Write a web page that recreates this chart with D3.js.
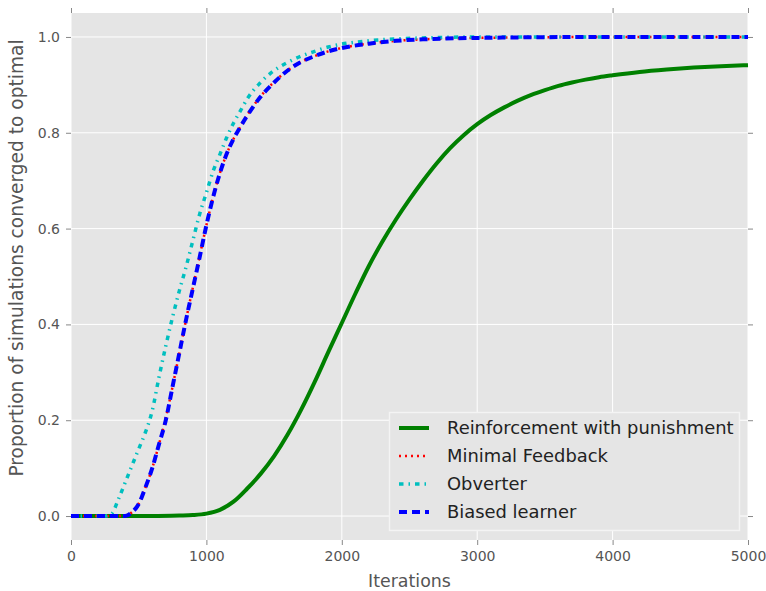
<!DOCTYPE html>
<html>
  <head>
    <meta charset="utf-8">
    <title>convergence</title>
    <script src="https://d3js.org/d3.v7.min.js"></script>
  </head>
  <style>
    body { margin: 0; background: #fff; }
    text { font-family: "DejaVu Sans", sans-serif; }
    .grid line { stroke: #fff; stroke-width: 1px; }
  </style>
  <body>
    <script>
      const width = 766;
      const height = 591;
      const margin = {top: 13, right: 18, bottom: 51, left: 71};

      // tick labels
      const xTicks = [0, 1000, 2000, 3000, 4000, 5000];
      const yTicks = [0.0, 0.2, 0.4, 0.6, 0.8, 1.0];

      const seriesNames = ["Reinforcement with punishment", "Minimal Feedback", "Obverter", "Biased learner"];

      // Reinforcement with punishment
      const reinfX = [0, 600, 800, 900, 1000, 1100, 1200, 1300, 1400, 1500, 1600, 1700, 1800, 1900, 2000, 2100, 2200, 2300, 2400, 2500, 2600, 2700, 2800, 2900, 3000, 3100, 3200, 3300, 3400, 3500, 3600, 3700, 3800, 3900, 4000, 4200, 4400, 4600, 4800, 5000];
      const reinfY = [0, 0, 0.001, 0.002, 0.005, 0.013, 0.03, 0.057, 0.088, 0.125, 0.17, 0.222, 0.28, 0.342, 0.403, 0.464, 0.522, 0.573, 0.619, 0.661, 0.70, 0.736, 0.768, 0.795, 0.818, 0.837, 0.853, 0.867, 0.879, 0.889, 0.898, 0.905, 0.911, 0.916, 0.92, 0.927, 0.932, 0.936, 0.939, 0.941];

      // Minimal Feedback
      const minimalX = [0, 400, 450, 500, 550, 600, 650, 700, 750, 800, 850, 900, 950, 1000, 1050, 1100, 1150, 1200, 1250, 1300, 1400, 1500, 1600, 1700, 1800, 1900, 2000, 2200, 2400, 2600, 3000, 4000, 5000];
      const minimalY = [0, 0, 0.008, 0.026, 0.06, 0.10, 0.15, 0.205, 0.27, 0.34, 0.41, 0.477, 0.542, 0.607, 0.666, 0.716, 0.756, 0.787, 0.812, 0.836, 0.876, 0.906, 0.93, 0.948, 0.96, 0.97, 0.977, 0.986, 0.992, 0.995, 0.998, 1.0, 1.0];

      // Obverter
      const obverterX = [0, 250, 300, 350, 400, 450, 500, 550, 600, 650, 700, 750, 800, 850, 900, 950, 1000, 1050, 1100, 1150, 1200, 1250, 1300, 1400, 1500, 1600, 1700, 1800, 1900, 2000, 2200, 2400, 2600, 3000, 5000];
      const obverterY = [0, 0, 0.005, 0.035, 0.07, 0.105, 0.14, 0.175, 0.22, 0.29, 0.355, 0.415, 0.47, 0.52, 0.575, 0.63, 0.675, 0.72, 0.755, 0.79, 0.82, 0.845, 0.87, 0.905, 0.93, 0.947, 0.96, 0.97, 0.979, 0.985, 0.992, 0.996, 0.998, 1.0, 1.0];

      // Biased learner
      const biasedX = [0, 400, 450, 500, 550, 600, 650, 700, 750, 800, 850, 900, 950, 1000, 1050, 1100, 1150, 1200, 1250, 1300, 1400, 1500, 1600, 1700, 1800, 1900, 2000, 2200, 2400, 2600, 3000, 4000, 5000];
      const biasedY = [0, 0, 0.008, 0.025, 0.06, 0.10, 0.15, 0.20, 0.27, 0.34, 0.41, 0.475, 0.54, 0.607, 0.666, 0.716, 0.756, 0.787, 0.812, 0.835, 0.875, 0.905, 0.93, 0.948, 0.96, 0.97, 0.977, 0.986, 0.992, 0.995, 0.998, 1.0, 1.0];

      function zip(xs, ys) {
        return xs.map(function(x, i) { return {x: x, y: ys[i]}; });
      }

      const series = [
        {name: seriesNames[0], values: zip(reinfX, reinfY), color: "#008000", width: 4, dash: null},
        {name: seriesNames[1], values: zip(minimalX, minimalY), color: "#ff0000", width: 2.5, dash: "2,4"},
        {name: seriesNames[2], values: zip(obverterX, obverterY), color: "#00bfbf", width: 3.5, dash: "4.5,5,1.5,5"},
        {name: seriesNames[3], values: zip(biasedX, biasedY), color: "#0000ff", width: 4, dash: "8,5"}
      ];

      const plotW = width - margin.left - margin.right;
      const plotH = height - margin.top - margin.bottom;

      const xScale = d3.scaleLinear().domain([0, 5000]).range([0, plotW]);
      const yScale = d3.scaleLinear().domain([-0.05, 1.05]).range([plotH, 0]);

      const svg = d3.select("body")
        .append("svg")
          .attr("width", width)
          .attr("height", height);

      const g = svg.append("g")
          .attr("transform", "translate(" + margin.left + "," + margin.top + ")");

      g.append("rect")
          .attr("width", plotW)
          .attr("height", plotH)
          .attr("fill", "#e5e5e5");

      // grid
      const grid = g.append("g").classed("grid", true);
      grid.selectAll("line.v")
        .data(xTicks)
        .enter()
        .append("line")
          .attr("x1", function(d) { return xScale(d); })
          .attr("x2", function(d) { return xScale(d); })
          .attr("y1", 0)
          .attr("y2", plotH);
      grid.selectAll("line.h")
        .data(yTicks)
        .enter()
        .append("line")
          .attr("y1", function(d) { return yScale(d); })
          .attr("y2", function(d) { return yScale(d); })
          .attr("x1", 0)
          .attr("x2", plotW);

      // axes, ticks on all four sides
      function styleAxis(sel) {
        sel.select(".domain").remove();
        sel.selectAll(".tick line").attr("stroke", "#888");
        sel.selectAll(".tick text")
          .attr("fill", "#555")
          .style("font-size", "14px")
          .style("font-family", "DejaVu Sans, sans-serif");
      }

      g.append("g")
          .attr("transform", "translate(0," + plotH + ")")
          .call(d3.axisBottom(xScale).tickValues(xTicks).tickFormat(d3.format("d")).tickSize(5).tickPadding(6))
          .call(styleAxis);

      g.append("g")
          .call(d3.axisTop(xScale).tickValues(xTicks).tickSize(5).tickFormat(""))
          .call(styleAxis);

      g.append("g")
          .call(d3.axisLeft(yScale).tickValues(yTicks).tickFormat(d3.format(".1f")).tickSize(5).tickPadding(6))
          .call(styleAxis);

      g.append("g")
          .attr("transform", "translate(" + plotW + ",0)")
          .call(d3.axisRight(yScale).tickValues(yTicks).tickSize(5).tickFormat(""))
          .call(styleAxis);

      // axis labels
      svg.append("text")
          .attr("x", margin.left + plotW / 2)
          .attr("y", 587)
          .attr("text-anchor", "middle")
          .attr("fill", "#555")
          .style("font-size", "17.4px")
          .text("Iterations");

      svg.append("text")
          .attr("transform", "translate(23,258) rotate(-90)")
          .attr("text-anchor", "middle")
          .attr("fill", "#555")
          .style("font-size", "18.6px")
          .text("Proportion of simulations converged to optimal");

      // lines
      const line = d3.line()
        .x(function(d) { return xScale(d.x); })
        .y(function(d) { return yScale(d.y); })
        .curve(d3.curveMonotoneX);

      g.append("g")
        .selectAll("path")
        .data(series)
        .enter()
        .append("path")
          .attr("d", function(d) { return line(d.values); })
          .attr("fill", "none")
          .attr("stroke", function(d) { return d.color; })
          .attr("stroke-width", function(d) { return d.width; })
          .attr("stroke-dasharray", function(d) { return d.dash; });

      // legend
      const legend = svg.append("g")
          .attr("transform", "translate(389,412)");

      legend.append("rect")
          .attr("x", 0.5)
          .attr("y", 0.5)
          .attr("width", 350)
          .attr("height", 118)
          .attr("fill", "#e5e5e5")
          .attr("stroke", "#f4f4f4")
          .attr("stroke-width", 1.5);

      const rows = legend.selectAll("g.row")
        .data(series)
        .enter()
        .append("g")
          .attr("transform", function(d, i) { return "translate(0," + (16 + i * 28) + ")"; });

      rows.append("line")
          .attr("x1", 10)
          .attr("x2", 40)
          .attr("y1", 0)
          .attr("y2", 0)
          .attr("stroke", function(d) { return d.color; })
          .attr("stroke-width", function(d) { return d.width; })
          .attr("stroke-dasharray", function(d) { return d.dash; });

      rows.append("text")
          .attr("x", 58)
          .attr("y", 0)
          .attr("dy", "0.35em")
          .attr("fill", "#222")
          .style("font-size", "17.9px")
          .text(function(d) { return d.name; });
    </script>
  </body>
</html>
